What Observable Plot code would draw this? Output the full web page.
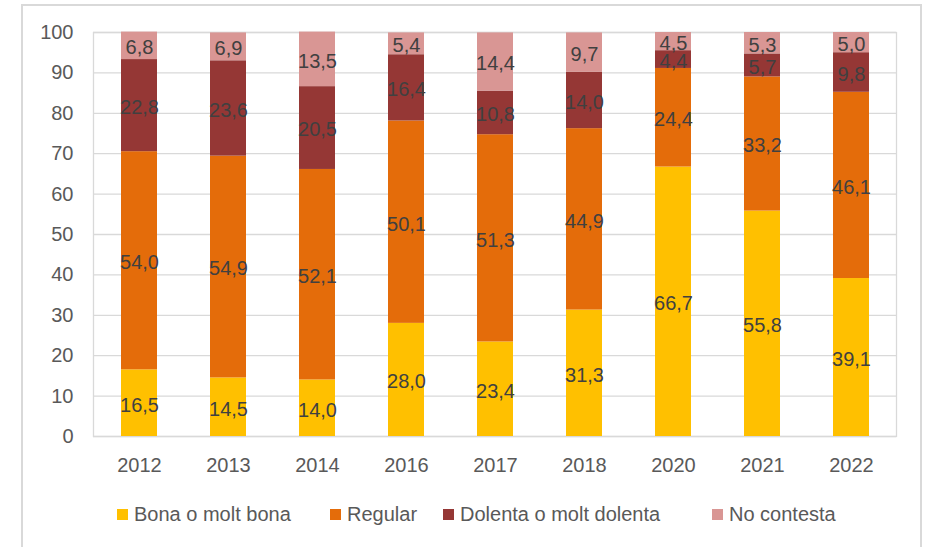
<!DOCTYPE html>
<html>
<head>
<meta charset="utf-8">
<script src="https://cdn.jsdelivr.net/npm/d3@7"></script>
<script src="https://cdn.jsdelivr.net/npm/@observablehq/plot@0.6"></script>
<style>
  html, body { margin: 0; padding: 0; background: #fff; }
  body { width: 926px; height: 547px; position: relative; overflow: hidden; font-family: "Liberation Sans", Arial, sans-serif; }
  #frame { position: absolute; left: 21px; top: 4px; width: 901px; height: 600px; border: 2px solid #d9d9d9; box-sizing: border-box; }
  #chart { position: absolute; left: 0; top: 0; }
  #legend { position: absolute; left: 0; top: 502px; width: 926px; height: 24px; font-size: 20px; color: #595959; line-height: 24px; }
  #legend .item { position: absolute; top: 0; display: flex; align-items: center; white-space: nowrap; }
  #legend .sw { width: 11px; height: 11px; margin-right: 6px; }
</style>
</head>
<body>
<div id="frame"></div>
<div id="chart"></div>
<div id="legend"></div>
<script>
const years = ["2012","2013","2014","2016","2017","2018","2020","2021","2022"];
const categories = ["Bona o molt bona","Regular","Dolenta o molt dolenta","No contesta"];
const colors = ["#FFC000","#E46C0A","#953735","#D99694"];
const bona = [16.5,14.5,14.0,28.0,23.4,31.3,66.7,55.8,39.1];
const regular = [54.0,54.9,52.1,50.1,51.3,44.9,24.4,33.2,46.1];
const dolenta = [22.8,23.6,20.5,16.4,10.8,14.0,4.4,5.7,9.8];
const noContesta = [6.8,6.9,13.5,5.4,14.4,9.7,4.5,5.3,5.0];
const yTicks = [0,10,20,30,40,50,60,70,80,90,100];

const series = [bona, regular, dolenta, noContesta];
const data = [];
years.forEach((yr, i) => {
  categories.forEach((c, j) => data.push({year: yr, cat: c, value: series[j][i]}));
});
const fmt = v => v.toFixed(1).replace(".", ",");

const chart = Plot.plot({
  width: 926,
  height: 490,
  marginLeft: 93,
  marginRight: 30,
  marginTop: 32,
  marginBottom: 54,
  style: {fontFamily: "'Liberation Sans', Arial, sans-serif", fontSize: "20px", color: "#595959", background: "transparent", overflow: "visible"},
  x: {domain: years, paddingInner: 0.6, paddingOuter: 0.3, label: null},
  y: {domain: [0, 100], label: null},
  color: {domain: categories, range: colors},
  marks: [
    Plot.gridY(yTicks, {stroke: "#d9d9d9", strokeOpacity: 1, strokeWidth: 1.3}),
    Plot.frame({stroke: "#d9d9d9", strokeWidth: 1.3}),
    Plot.barY(data, Plot.stackY({x: "year", y: "value", z: "cat", fill: "cat", order: categories})),
    Plot.text(data, Plot.stackY({x: "year", y: "value", z: "cat", order: categories, text: d => fmt(d.value), fill: "#404040", fontSize: 20, dy: 2})),
    Plot.axisY(yTicks, {tickSize: 0, tickPadding: 20, tickFormat: d => String(d), fill: "#595959", fontSize: 20, label: null}),
    Plot.axisX({tickSize: 0, tickPadding: 21, fill: "#595959", fontSize: 20, label: null})
  ]
});
document.getElementById("chart").appendChild(chart);

const legendLefts = [117, 330, 443, 712];
const legend = document.getElementById("legend");
categories.forEach((c, j) => {
  const item = document.createElement("div");
  item.className = "item";
  item.style.left = legendLefts[j] + "px";
  const sw = document.createElement("span");
  sw.className = "sw";
  sw.style.background = colors[j];
  const t = document.createElement("span");
  t.textContent = c;
  item.appendChild(sw);
  item.appendChild(t);
  legend.appendChild(item);
});
</script>
</body>
</html>
